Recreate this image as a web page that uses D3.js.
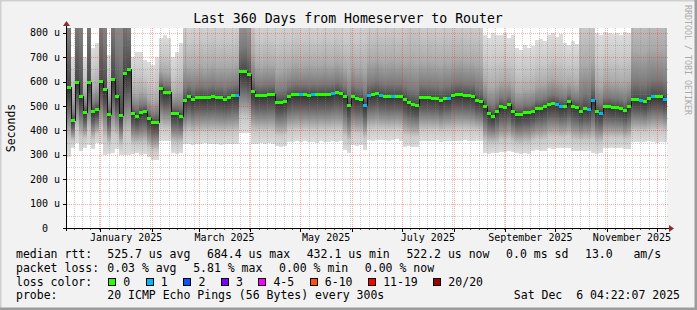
<!DOCTYPE html>
<html>
<head>
<meta charset="utf-8">
<script src="https://cdn.jsdelivr.net/npm/d3@7"></script>
<style>
body { margin: 0; background: #f2f2f2; }
text { font-family: "DejaVu Sans Mono", monospace; fill: #000; }
</style>
</head>
<body>
<div id="chart"></div>
<script>

// time range of the graph (360 days, 150 bins of 2.4 days)
const endTime = new Date(2025, 11, 7);
const rangeDays = 360;
const binDays = 2.4;

// median rtt per bin (microseconds)
const medianRtt = [
  578,444,600,540,476,600,480,488,603,570,
  467,610,540,463,636,650,471,460,475,480,
  452,435,436,574,559,559,471,471,460,525,
  543,529,538,538,536,538,540,538,538,530,
  538,545,545,645,645,630,560,545,545,545,
  548,550,518,518,522,540,548,548,548,548,
  546,548,548,548,548,548,552,559,552,540,
  505,541,533,530,505,545,550,555,545,543,
  543,543,543,543,530,515,510,504,538,538,
  536,534,534,525,534,534,547,549,549,545,
  545,543,525,521,500,470,460,480,500,495,
  507,480,466,468,474,474,480,493,493,500,
  510,514,510,500,501,520,501,498,480,493,
  488,525,480,473,500,501,496,496,492,482,
  500,529,529,525,521,532,543,543,541,530];

// lowest ping per bin (bottom of the smoke)
const minRtt = [
  292,330,348,317,330,340,324,349,345,300,
  305,309,324,299,299,300,303,306,301,304,
  290,279,279,357,355,357,307,305,309,344,
  346,342,345,344,347,343,345,344,341,346,
  344,343,345,390,388,391,344,346,348,345,
  347,344,335,332,336,354,352,355,351,356,
  353,354,350,355,352,354,356,353,355,320,
  307,340,338,341,320,360,358,362,359,361,
  357,360,363,358,333,335,331,334,357,355,
  358,356,359,354,357,358,355,357,356,359,
  357,355,358,356,307,305,309,306,312,310,
  314,311,306,304,307,305,316,318,315,317,
  327,325,328,326,329,327,316,314,317,315,
  316,307,305,308,328,326,329,327,330,324,
  322,353,351,354,352,355,353,350,354,352];

// highest ping per bin (top of the smoke, often above the graph)
const maxRtt = [
  2500,700,2500,2500,700,2500,740,760,2500,2200,
  710,2500,2000,2300,2500,2000,700,720,720,690,
  680,670,700,780,790,780,700,720,760,950,
  880,900,880,910,890,900,920,890,900,910,
  900,890,920,1400,1450,1350,1000,900,880,910,
  900,890,880,900,910,890,900,920,890,900,
  910,900,890,900,920,900,890,910,900,880,
  900,910,890,900,920,950,940,960,950,930,
  950,960,940,950,960,1000,1000,1000,950,940,
  960,950,940,950,960,950,940,950,960,950,
  940,950,960,950,790,780,800,790,790,800,
  780,790,740,730,750,740,745,770,775,765,
  790,800,785,795,760,750,765,755,1000,1000,
  1000,1000,800,790,805,800,795,800,790,805,
  800,1100,1100,1080,1100,1120,1100,1090,1100,1100];

// bins where 1 of 20 pings was lost
const lossOneBins = [42,58,61,66,74,75,78,81,95,122,123,130,131,133,143,146,149];

const yTicks = [0,100,200,300,400,500,600,700,800];
const yMinor = [50,150,250,350,450,550,650,750];
const monthLabels = ["January 2025","March 2025","May 2025","July 2025","September 2025","November 2025"];
const labelMonths = [new Date(2025,0,1),new Date(2025,2,1),new Date(2025,4,1),
                     new Date(2025,6,1),new Date(2025,8,1),new Date(2025,10,1)];

const lossLabels = ["0","1","2","3","4-5","6-10","11-19","20/20"];
const lossColors = ["#26ff00","#00b8ff","#0059ff","#7e00ff","#ff00ff","#ff5500","#ff0000","#a10000"];

const rttStats = ["525.7 us avg","684.4 us max","432.1 us min","522.2 us now","0.0 ms sd","13.0   am/s"];
const lossStats = ["0.03 % avg","5.81 % max","0.00 % min","0.00 % now"];

const width = 697, height = 310;
const startTime = d3.timeDay.offset(endTime, -rangeDays);
const binMs = binDays * 864e5;
const keepSpaces = s => s.replace(/ /g, "\u00a0");

const bins = medianRtt.map((m, i) => ({
  t0: new Date(+startTime + i * binMs),
  t1: new Date(+startTime + (i + 1) * binMs),
  med: m, lo: minRtt[i], hi: maxRtt[i],
  loss: lossOneBins.includes(i) ? 1 : 0
}));

const xScale = d3.scaleTime().domain([startTime, endTime]).range([67, 667]);
const yScale = d3.scaleLinear().domain([0, 820]).range([228, 28]);

const svg = d3.select("#chart").append("svg")
  .attr("width", width).attr("height", height);

// frame
svg.append("rect").attr("width", width).attr("height", height).attr("fill", "#f2f2f2");
svg.append("path").attr("d", `M0,${height} V0 H${width}`).attr("stroke", "#cfcfcf").attr("stroke-width", 3).attr("fill", "none");
svg.append("path").attr("d", `M0,${height-1} H${width-1} V0`).attr("stroke", "#9c9c9c").attr("stroke-width", 3).attr("fill", "none");

svg.append("rect").attr("x", 67).attr("y", 28).attr("width", 600).attr("height", 200).attr("fill", "#fff");

const defs = svg.append("defs");
defs.append("clipPath").attr("id", "plot")
  .append("rect").attr("x", 67).attr("y", 28).attr("width", 600).attr("height", 200);

// smoke shading: dark near the median, lighter towards the outer pings
const lowGrad = defs.append("linearGradient").attr("id", "lowGrad")
  .attr("x1", 0).attr("y1", 1).attr("x2", 0).attr("y2", 0);
[[0,"#dcdcdc"],[0.25,"#c8c8c8"],[0.45,"#9a9a9a"],[0.75,"#5a5a5a"],[1,"#303030"]].forEach(s =>
  lowGrad.append("stop").attr("offset", s[0]).attr("stop-color", s[1]));
const upGrad = defs.append("linearGradient").attr("id", "upGrad")
  .attr("x1", 0).attr("y1", 1).attr("x2", 0).attr("y2", 0);
[[0,"#4a4a4a"],[0.12,"#7a7a7a"],[0.35,"#aaaaaa"],[0.65,"#c8c8c8"],[1,"#dcdcdc"]].forEach(s =>
  upGrad.append("stop").attr("offset", s[0]).attr("stop-color", s[1]));

const smoke = svg.append("g").attr("clip-path", "url(#plot)").attr("shape-rendering", "crispEdges");
smoke.selectAll("rect.lo").data(bins).enter().append("rect")
  .attr("class", "lo")
  .attr("x", d => xScale(d.t0))
  .attr("width", d => xScale(d.t1) - xScale(d.t0))
  .attr("y", d => yScale(d.med))
  .attr("height", d => yScale(d.lo) - yScale(d.med))
  .attr("fill", "url(#lowGrad)");
smoke.selectAll("rect.hi").data(bins).enter().append("rect")
  .attr("class", "hi")
  .attr("x", d => xScale(d.t0))
  .attr("width", d => xScale(d.t1) - xScale(d.t0))
  .attr("y", d => yScale(d.hi))
  .attr("height", d => yScale(d.med) - yScale(d.hi))
  .attr("fill", "url(#upGrad)");

// grid
const grid = svg.append("g").attr("shape-rendering", "crispEdges");
const minorDays = d3.timeDay.every(5).range(startTime, endTime).filter(d => d.getDate() !== 1);
const months = d3.timeMonth.range(startTime, endTime);

grid.selectAll("line.hmin").data(yMinor).enter().append("line")
  .attr("x1", 67).attr("x2", 668)
  .attr("y1", d => Math.round(yScale(d)) + 0.5).attr("y2", d => Math.round(yScale(d)) + 0.5)
  .attr("stroke", "rgba(130,130,130,0.4)").attr("stroke-dasharray", "1,1");
grid.selectAll("line.vmin").data(minorDays).enter().append("line")
  .attr("x1", d => Math.round(xScale(d)) + 0.5).attr("x2", d => Math.round(xScale(d)) + 0.5)
  .attr("y1", 28).attr("y2", 228)
  .attr("stroke", "rgba(130,130,130,0.4)").attr("stroke-dasharray", "1,1");
grid.selectAll("line.hmaj").data(yTicks.slice(1)).enter().append("line")
  .attr("x1", 67).attr("x2", 668)
  .attr("y1", d => Math.round(yScale(d)) + 0.5).attr("y2", d => Math.round(yScale(d)) + 0.5)
  .attr("stroke", "rgba(255,40,40,0.4)").attr("stroke-dasharray", "1,1");
grid.selectAll("line.vmaj").data(months).enter().append("line")
  .attr("x1", d => Math.round(xScale(d)) + 0.5).attr("x2", d => Math.round(xScale(d)) + 0.5)
  .attr("y1", 28).attr("y2", 228)
  .attr("stroke", "rgba(255,40,40,0.4)").attr("stroke-dasharray", "1,1");

// median line
const medLine = d3.line()
  .x(d => xScale(d[0]))
  .y(d => Math.round(yScale(d[1])) + 0.5)
  .curve(d3.curveStepAfter);
const medPts = bins.map(d => [d.t0, d.med]);
medPts.push([bins[bins.length - 1].t1, bins[bins.length - 1].med]);
svg.append("path").attr("d", medLine(medPts))
  .attr("fill", "none").attr("stroke", "#151515").attr("stroke-width", 1)
  .attr("shape-rendering", "crispEdges");
svg.append("g").attr("shape-rendering", "crispEdges")
  .selectAll("rect").data(bins).enter().append("rect")
  .attr("x", d => xScale(d.t0))
  .attr("width", d => xScale(d.t1) - xScale(d.t0))
  .attr("y", d => Math.round(yScale(d.med)) - 1)
  .attr("height", 3)
  .attr("fill", d => lossColors[d.loss]);

// axes
const axes = svg.append("g").attr("shape-rendering", "crispEdges");
axes.append("line").attr("x1", 63).attr("x2", 669).attr("y1", 228.5).attr("y2", 228.5).attr("stroke", "#000");
axes.append("line").attr("x1", 66.5).attr("x2", 66.5).attr("y1", 231).attr("y2", 26).attr("stroke", "#000");
axes.selectAll("line.yt").data(yTicks).enter().append("line")
  .attr("x1", 63).attr("x2", 66)
  .attr("y1", d => Math.round(yScale(d)) + 0.5).attr("y2", d => Math.round(yScale(d)) + 0.5)
  .attr("stroke", "#000");
axes.selectAll("line.xt").data(months).enter().append("line")
  .attr("x1", d => Math.round(xScale(d)) + 0.5).attr("x2", d => Math.round(xScale(d)) + 0.5)
  .attr("y1", 229).attr("y2", 232).attr("stroke", "#000");
axes.selectAll("line.xm").data(minorDays).enter().append("line")
  .attr("x1", d => Math.round(xScale(d)) + 0.5).attr("x2", d => Math.round(xScale(d)) + 0.5)
  .attr("y1", 229).attr("y2", 230).attr("stroke", "#555");
svg.append("path").attr("d", "M669,225 L674,228.5 L669,232 Z").attr("fill", "#8e2a2a");
svg.append("path").attr("d", "M63,26 L66.5,21 L70,26 Z").attr("fill", "#8e2a2a");

svg.selectAll("text.yl").data(yTicks).enter().append("text")
  .attr("x", 60).attr("y", d => yScale(d) + 3.5)
  .attr("text-anchor", "end")
  .attr("font-size", "10px")
  .text(d => keepSpaces(d === 0 ? "0  " : d + " u"));

svg.selectAll("text.xl").data(labelMonths).enter().append("text")
  .attr("x", d => (xScale(d) + xScale(d3.timeMonth.offset(d, 1))) / 2)
  .attr("y", 241).attr("text-anchor", "middle").attr("font-size", "10px")
  .text((d, i) => monthLabels[i]);

svg.append("text").attr("x", 348).attr("y", 23).attr("text-anchor", "middle")
  .attr("font-size", "13.2px").text("Last 360 Days from Homeserver to Router");

svg.append("text").attr("transform", "translate(15,128) rotate(-90)")
  .attr("text-anchor", "middle").attr("font-size", "11.5px").text("Seconds");

svg.append("text").attr("transform", "translate(685,5) rotate(90)")
  .attr("font-size", "8.3px").style("fill", "#aaa").text("RRDTOOL / TOBI OETIKER");

// legend
const leg = svg.append("g").attr("font-size", "11.5px");
const rowY = [258, 271.8, 285.6, 299.4];
["median rtt:", "packet loss:", "loss color:", "probe:"].forEach((t, i) =>
  leg.append("text").attr("x", 16).attr("y", rowY[i]).text(t));

function statRow(items, y) {
  let x = 107.3;
  items.forEach(t => {
    const el = leg.append("text").attr("x", x).attr("y", y).text(keepSpaces(t));
    x += el.node().getComputedTextLength() + 16.6;
  });
}
statRow(rttStats, rowY[0]);
statRow(lossStats, rowY[1]);

let lx = 108.5;
lossLabels.forEach((t, i) => {
  leg.append("rect").attr("x", lx).attr("y", 278.5).attr("width", 7).attr("height", 7)
    .attr("fill", lossColors[i]).attr("stroke", "#000").attr("shape-rendering", "crispEdges");
  const el = leg.append("text").attr("x", lx + 14.8).attr("y", rowY[2]).text(t);
  lx += 14.8 + el.node().getComputedTextLength() + 15.8;
});

leg.append("text").attr("x", 107.3).attr("y", rowY[3]).text("20 ICMP Echo Pings (56 Bytes) every 300s");
leg.append("text").attr("x", 680).attr("y", rowY[3]).attr("text-anchor", "end")
  .text(keepSpaces("Sat Dec  6 04:22:07 2025"));

</script>
</body>
</html>
